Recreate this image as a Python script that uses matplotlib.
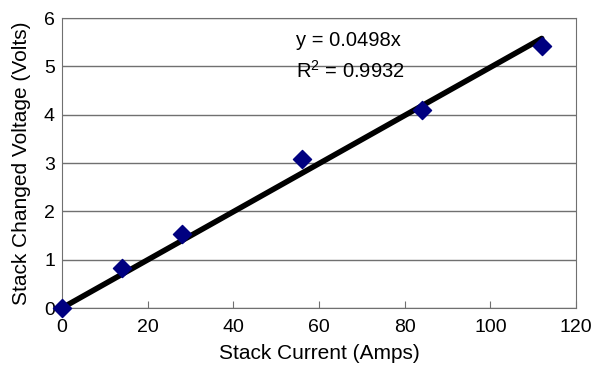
import matplotlib
matplotlib.use("Agg")
import matplotlib.pyplot as plt
import numpy as np

plt.rcParams['font.family'] = ['Liberation Sans', 'DejaVu Sans']

# measured data
current = [0, 14, 28, 56, 84, 112]
voltage = [0.0, 0.83, 1.53, 3.08, 4.10, 5.43]
slope = 0.0498
r_squared = 0.9932

fig = plt.figure(figsize=(6.07, 3.68), dpi=100)
ax = fig.add_axes([0.102, 0.163, 0.847, 0.788])

# trend line through origin
fit_x = np.array([0, max(current)])
ax.plot(fit_x, slope * fit_x, color='black', lw=4, zorder=3, solid_capstyle='round')
ax.scatter(current, voltage, marker='D', s=85, color='#000080', zorder=4, clip_on=False)

ax.set_xlim(0, 120)
ax.set_ylim(0, 6)
ax.set_xticks(range(0, 121, 20))
ax.set_yticks(range(0, 7))
ax.yaxis.grid(True, color='#707070', lw=1)
ax.set_axisbelow(True)
for s in ax.spines.values():
    s.set_color('#707070')
ax.tick_params(axis='x', direction='in', length=5, color='#707070', labelsize=14, pad=8)
ax.tick_params(axis='y', length=0, labelsize=14, pad=5)

ax.set_xlabel('Stack Current (Amps)', fontsize=15, labelpad=6)
ax.set_ylabel('Stack Changed Voltage (Volts)', fontsize=15, labelpad=9)

ax.text(0.455, 0.905, 'y = 0.0498x', transform=ax.transAxes, fontsize=14.5)
ax.text(0.455, 0.795, '$\\mathregular{R^2}$ = %.4f' % r_squared, transform=ax.transAxes, fontsize=14.5)

fig.savefig('out.png', dpi=100)
